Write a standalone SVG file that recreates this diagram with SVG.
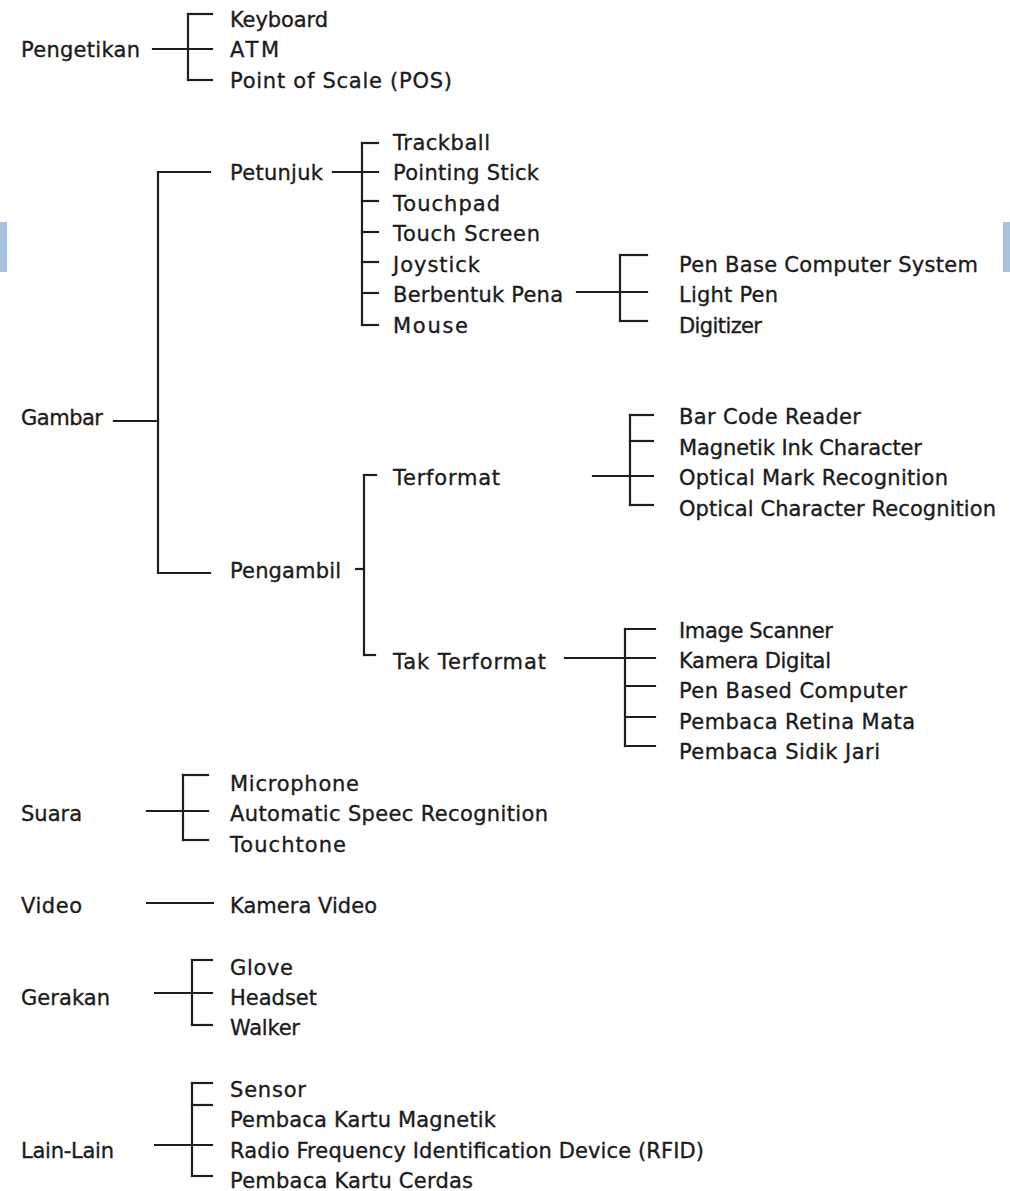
<svg xmlns="http://www.w3.org/2000/svg" width="1010" height="1191" viewBox="0 0 1010 1191">
<style>
text{font-family:"DejaVu Sans","Liberation Sans",sans-serif;font-size:21px;fill:#1c1c1c;stroke:#1c1c1c;stroke-width:0.35}
.c line{stroke:#1e1e1e;stroke-width:2.2;stroke-linecap:square}
.bar{fill:#a8c2de}
</style>
<rect width="1010" height="1191" fill="#fff"/>
<rect class="bar" x="0" y="222" width="7" height="50"/>
<rect class="bar" x="1003" y="222" width="7" height="50"/>
<g id="connectors" class="c">
<line x1="153" y1="49" x2="212" y2="49"/>
<line x1="188" y1="14" x2="188" y2="80"/>
<line x1="188" y1="14" x2="212" y2="14"/>
<line x1="188" y1="80" x2="212" y2="80"/>
<line x1="114" y1="421" x2="158" y2="421"/>
<line x1="158" y1="172" x2="158" y2="573"/>
<line x1="158" y1="172" x2="210" y2="172"/>
<line x1="158" y1="573" x2="210" y2="573"/>
<line x1="333" y1="172" x2="378" y2="172"/>
<line x1="362" y1="143" x2="362" y2="325"/>
<line x1="362" y1="143" x2="378" y2="143"/>
<line x1="362" y1="201" x2="378" y2="201"/>
<line x1="362" y1="232" x2="378" y2="232"/>
<line x1="362" y1="262" x2="378" y2="262"/>
<line x1="362" y1="293" x2="378" y2="293"/>
<line x1="362" y1="325" x2="378" y2="325"/>
<line x1="577" y1="292" x2="647" y2="292"/>
<line x1="620" y1="255" x2="620" y2="321"/>
<line x1="620" y1="255" x2="647" y2="255"/>
<line x1="620" y1="321" x2="647" y2="321"/>
<line x1="356" y1="569" x2="364" y2="569"/>
<line x1="364" y1="475" x2="364" y2="655"/>
<line x1="364" y1="475" x2="376" y2="475"/>
<line x1="364" y1="655" x2="375" y2="655"/>
<line x1="593" y1="476" x2="653" y2="476"/>
<line x1="630" y1="415" x2="630" y2="505"/>
<line x1="630" y1="415" x2="653" y2="415"/>
<line x1="630" y1="441" x2="653" y2="441"/>
<line x1="630" y1="505" x2="653" y2="505"/>
<line x1="565" y1="658" x2="655" y2="658"/>
<line x1="625" y1="629" x2="625" y2="746"/>
<line x1="625" y1="629" x2="655" y2="629"/>
<line x1="625" y1="686" x2="655" y2="686"/>
<line x1="625" y1="717" x2="655" y2="717"/>
<line x1="625" y1="746" x2="655" y2="746"/>
<line x1="147" y1="811" x2="208" y2="811"/>
<line x1="183" y1="775" x2="183" y2="840"/>
<line x1="183" y1="775" x2="208" y2="775"/>
<line x1="183" y1="840" x2="208" y2="840"/>
<line x1="147" y1="903" x2="213" y2="903"/>
<line x1="155" y1="993" x2="212" y2="993"/>
<line x1="192" y1="960" x2="192" y2="1025"/>
<line x1="192" y1="960" x2="212" y2="960"/>
<line x1="192" y1="1025" x2="212" y2="1025"/>
<line x1="155" y1="1145" x2="212" y2="1145"/>
<line x1="192" y1="1083" x2="192" y2="1176"/>
<line x1="192" y1="1083" x2="212" y2="1083"/>
<line x1="192" y1="1105" x2="212" y2="1105"/>
<line x1="192" y1="1176" x2="212" y2="1176"/>
</g>
<g id="pengetikan"><text x="21" y="57" textLength="119">Pengetikan</text></g>
<g id="keyboard"><text x="230" y="27" textLength="98">Keyboard</text></g>
<g id="atm"><text x="230" y="57" textLength="49">ATM</text></g>
<g id="pos"><text x="230" y="88" textLength="222">Point of Scale (POS)</text></g>
<g id="gambar"><text x="21" y="425" textLength="82">Gambar</text></g>
<g id="petunjuk"><text x="230" y="180" textLength="93">Petunjuk</text></g>
<g id="trackball"><text x="393" y="150" textLength="97">Trackball</text></g>
<g id="pointing-stick"><text x="393" y="180" textLength="146">Pointing Stick</text></g>
<g id="touchpad"><text x="393" y="211" textLength="107">Touchpad</text></g>
<g id="touch-screen"><text x="393" y="241" textLength="147">Touch Screen</text></g>
<g id="joystick"><text x="393" y="272" textLength="87">Joystick</text></g>
<g id="berbentuk-pena"><text x="393" y="302" textLength="170">Berbentuk Pena</text></g>
<g id="mouse"><text x="393" y="333" textLength="75">Mouse</text></g>
<g id="pen-base"><text x="679" y="272" textLength="299">Pen Base Computer System</text></g>
<g id="light-pen"><text x="679" y="302" textLength="99">Light Pen</text></g>
<g id="digitizer"><text x="679" y="333" textLength="83">Digitizer</text></g>
<g id="pengambil"><text x="230" y="578" textLength="111">Pengambil</text></g>
<g id="terformat"><text x="393" y="485" textLength="107">Terformat</text></g>
<g id="tak-terformat"><text x="393" y="669" textLength="153">Tak Terformat</text></g>
<g id="bar-code"><text x="679" y="424" textLength="182">Bar Code Reader</text></g>
<g id="magnetik-ink"><text x="679" y="455" textLength="243">Magnetik Ink Character</text></g>
<g id="omr"><text x="679" y="485" textLength="269">Optical Mark Recognition</text></g>
<g id="ocr"><text x="679" y="516" textLength="317">Optical Character Recognition</text></g>
<g id="image-scanner"><text x="679" y="638" textLength="154">Image Scanner</text></g>
<g id="kamera-digital"><text x="679" y="668" textLength="152">Kamera Digital</text></g>
<g id="pen-based"><text x="679" y="698" textLength="228">Pen Based Computer</text></g>
<g id="retina"><text x="679" y="729" textLength="236">Pembaca Retina Mata</text></g>
<g id="sidik-jari"><text x="679" y="759" textLength="201">Pembaca Sidik Jari</text></g>
<g id="suara"><text x="21" y="821" textLength="61">Suara</text></g>
<g id="microphone"><text x="230" y="791" textLength="129">Microphone</text></g>
<g id="asr"><text x="230" y="821" textLength="318">Automatic Speec Recognition</text></g>
<g id="touchtone"><text x="230" y="852" textLength="116">Touchtone</text></g>
<g id="video"><text x="21" y="913" textLength="61">Video</text></g>
<g id="kamera-video"><text x="230" y="913" textLength="147">Kamera Video</text></g>
<g id="gerakan"><text x="21" y="1005" textLength="89">Gerakan</text></g>
<g id="glove"><text x="230" y="975" textLength="63">Glove</text></g>
<g id="headset"><text x="230" y="1005" textLength="87">Headset</text></g>
<g id="walker"><text x="230" y="1035" textLength="70">Walker</text></g>
<g id="lain-lain"><text x="21" y="1158" textLength="93">Lain-Lain</text></g>
<g id="sensor"><text x="230" y="1097" textLength="76">Sensor</text></g>
<g id="kartu-magnetik"><text x="230" y="1127" textLength="266">Pembaca Kartu Magnetik</text></g>
<g id="rfid"><text x="230" y="1158" textLength="474">Radio Frequency Identification Device (RFID)</text></g>
<g id="kartu-cerdas"><text x="230" y="1188" textLength="243">Pembaca Kartu Cerdas</text></g>
</svg>
